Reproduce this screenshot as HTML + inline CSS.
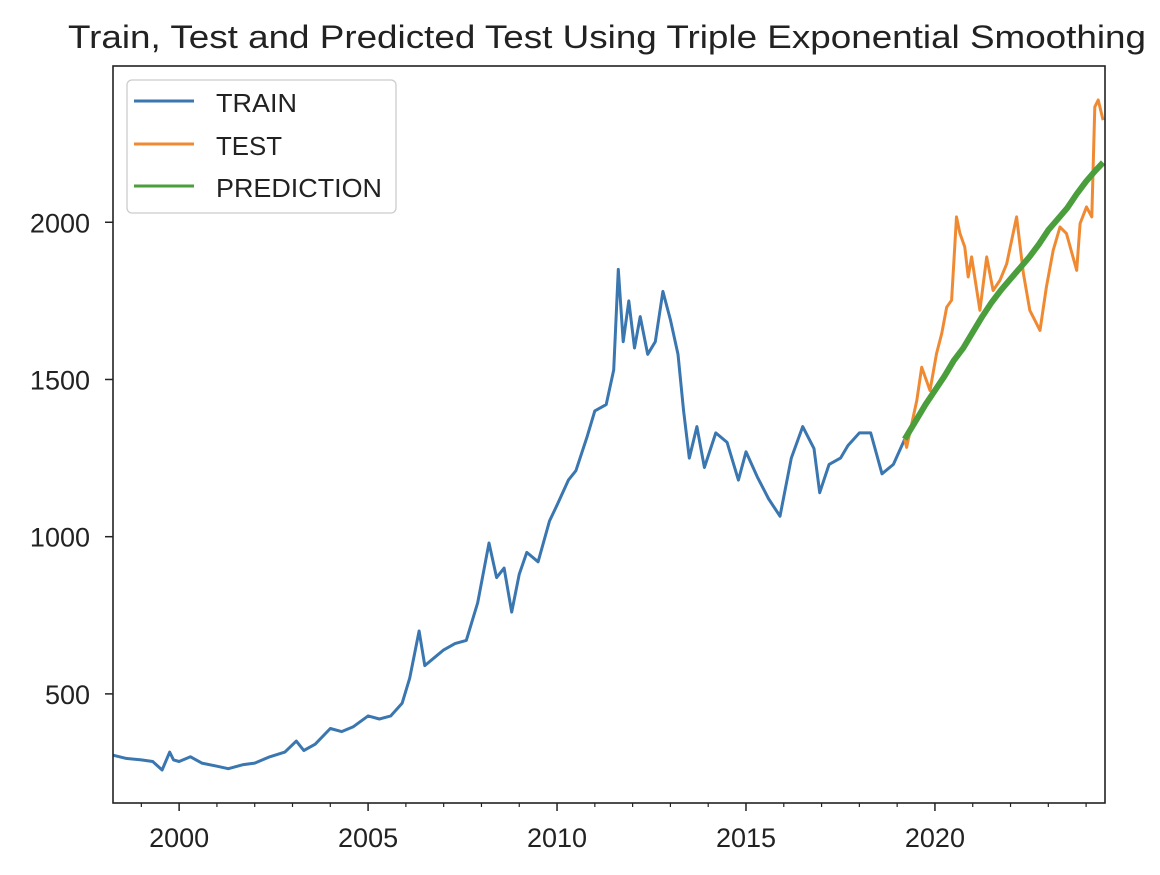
<!DOCTYPE html>
<html><head><meta charset="utf-8"><style>
html,body{margin:0;padding:0;background:#fff;}
svg text{font-family:"Liberation Sans","DejaVu Sans",sans-serif;fill:#222;}
</style></head><body>
<svg id="chart" width="1160" height="870" xmlns="http://www.w3.org/2000/svg">
<text x="68" y="48" font-size="32" textLength="1078" lengthAdjust="spacingAndGlyphs">Train, Test and Predicted Test Using Triple Exponential Smoothing</text>
<g id="plot"></g>
<rect x="113" y="66" width="992" height="737" fill="none" stroke="#222" stroke-width="1.6"/>
<g id="axes"></g>
<g>
<rect x="127" y="80" width="269" height="133" rx="5" fill="#fff" fill-opacity="0.85" stroke="#ccc" stroke-width="1.3"/>
<g><line x1="134" y1="101" x2="194" y2="101" stroke="#3a76b0" stroke-width="3"/><text x="216" y="112" font-size="26" textLength="81" lengthAdjust="spacingAndGlyphs">TRAIN</text></g>
<g><line x1="134" y1="144" x2="194" y2="144" stroke="#f08a32" stroke-width="3"/><text x="216" y="155" font-size="26" textLength="66" lengthAdjust="spacingAndGlyphs">TEST</text></g>
<g><line x1="134" y1="186" x2="194" y2="186" stroke="#4a9e3c" stroke-width="3"/><text x="216" y="197" font-size="26" textLength="166" lengthAdjust="spacingAndGlyphs">PREDICTION</text></g>
</g>
</svg>
<script>
const trainYears=[1998.25,1998.6,1999.0,1999.3,1999.55,1999.75,1999.85,2000.0,2000.3,2000.6,2001.0,2001.3,2001.7,2002.0,2002.4,2002.8,2003.1,2003.3,2003.6,2004.0,2004.3,2004.6,2005.0,2005.3,2005.6,2005.9,2006.1,2006.35,2006.5,2006.8,2007.0,2007.3,2007.6,2007.9,2008.2,2008.4,2008.6,2008.8,2009.0,2009.2,2009.5,2009.8,2010.0,2010.3,2010.5,2010.8,2011.0,2011.3,2011.5,2011.62,2011.75,2011.9,2012.05,2012.2,2012.4,2012.6,2012.8,2013.0,2013.2,2013.35,2013.5,2013.7,2013.9,2014.2,2014.5,2014.8,2015.0,2015.3,2015.6,2015.9,2016.2,2016.5,2016.8,2016.95,2017.2,2017.5,2017.7,2018.0,2018.3,2018.6,2018.9,2019.2];
const trainValues=[305,295,290,285,258,315,290,285,300,280,270,262,275,280,300,315,350,320,340,390,380,395,430,420,430,470,550,700,590,620,640,660,670,790,980,870,900,760,880,950,920,1050,1100,1180,1210,1320,1400,1420,1530,1850,1620,1750,1600,1700,1580,1620,1780,1690,1580,1400,1250,1350,1220,1330,1300,1180,1270,1190,1120,1065,1250,1350,1280,1140,1230,1250,1290,1330,1330,1200,1230,1310];
const testYears=[2019.2,2019.25,2019.52,2019.65,2019.87,2020.04,2020.18,2020.31,2020.44,2020.57,2020.66,2020.79,2020.88,2020.97,2021.19,2021.37,2021.54,2021.72,2021.9,2022.16,2022.34,2022.51,2022.78,2022.95,2023.13,2023.31,2023.48,2023.75,2023.84,2024.01,2024.15,2024.23,2024.32,2024.45];
const testValues=[1310,1284,1433,1539,1465,1582,1646,1730,1752,2017,1965,1921,1826,1890,1720,1890,1783,1815,1868,2017,1837,1720,1656,1794,1911,1985,1964,1847,1996,2049,2017,2367,2389,2325];
const predYears=[2019.2,2019.25,2019.5,2019.75,2020.0,2020.25,2020.5,2020.75,2021.0,2021.25,2021.5,2021.75,2022.0,2022.25,2022.5,2022.75,2023.0,2023.25,2023.5,2023.75,2024.0,2024.25,2024.45];
const predValues=[1310,1320,1370,1420,1465,1510,1560,1600,1650,1700,1745,1785,1820,1855,1890,1930,1975,2010,2045,2090,2130,2165,2190];
const yTicks=[500,1000,1500,2000];
const xTickLabels=[2000,2005,2010,2015,2020];
const minorYears=[1999,2001,2002,2003,2004,2006,2007,2008,2009,2011,2012,2013,2014,2016,2017,2018,2019,2021,2022,2023,2024];

const X0=113,X1=1105,Y0=66,Y1=803;
const xMin=1998.25,xMax=2024.5,yMin=153,yMax=2497;
function xs(t){return X0+(t-xMin)/(xMax-xMin)*(X1-X0);}
function ys(v){return Y1-(v-yMin)/(yMax-yMin)*(Y1-Y0);}
const NS="http://www.w3.org/2000/svg";
const plot=document.getElementById('plot'),axes=document.getElementById('axes');
function line(xsArr,vs,color,w,name){
  const p=document.createElementNS(NS,'polyline');
  p.setAttribute('points',xsArr.map((t,i)=>xs(t).toFixed(1)+','+ys(vs[i]).toFixed(1)).join(' '));
  p.setAttribute('fill','none');p.setAttribute('stroke',color);p.setAttribute('stroke-width',w);
  p.setAttribute('stroke-linejoin','round');
  
  
  plot.appendChild(p);
}
line(trainYears,trainValues,'#3a76b0',3,'train-line');
line(testYears,testValues,'#f08a32',3,'test-line');
line(predYears,predValues,'#4a9e3c',6,'prediction-line');
yTicks.forEach(v=>{
  const y=ys(v);
  const l=document.createElementNS(NS,'line');
  l.setAttribute('x1',X0-8);l.setAttribute('x2',X0);l.setAttribute('y1',y);l.setAttribute('y2',y);l.setAttribute('stroke','#222');l.setAttribute('stroke-width','1.5');
  
  
  axes.appendChild(l);
  const t=document.createElementNS(NS,'text');
  t.setAttribute('x',X0-23);t.setAttribute('y',y+10);t.setAttribute('text-anchor','end');t.setAttribute('font-size','27');
  t.textContent=v;
  
  
  axes.appendChild(t);
});
xTickLabels.forEach(yr=>{
  const x=xs(yr);
  const l=document.createElementNS(NS,'line');
  l.setAttribute('x1',x);l.setAttribute('x2',x);l.setAttribute('y1',Y1);l.setAttribute('y2',Y1+8);l.setAttribute('stroke','#222');l.setAttribute('stroke-width','1.5');
  
  
  axes.appendChild(l);
  const t=document.createElementNS(NS,'text');
  t.setAttribute('x',x);t.setAttribute('y',Y1+44);t.setAttribute('text-anchor','middle');t.setAttribute('font-size','27');
  t.textContent=yr;
  
  
  axes.appendChild(t);
});
minorYears.forEach(yr=>{
  const x=xs(yr);
  const l=document.createElementNS(NS,'line');
  l.setAttribute('x1',x);l.setAttribute('x2',x);l.setAttribute('y1',Y1);l.setAttribute('y2',Y1+4);l.setAttribute('stroke','#222');l.setAttribute('stroke-width','1.2');
  
  
  axes.appendChild(l);
});
</script>
</body></html>
